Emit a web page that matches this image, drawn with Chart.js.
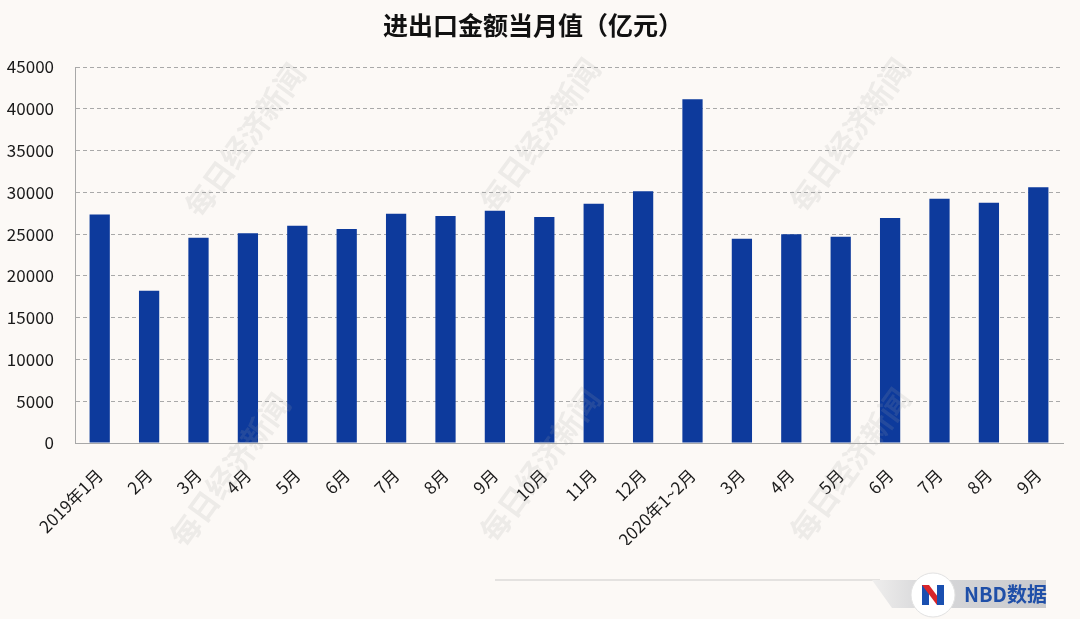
<!DOCTYPE html>
<html><head><meta charset="utf-8">
<script src="https://cdn.jsdelivr.net/npm/chart.js@4.4.0/dist/chart.umd.min.js"></script>
<style>
html,body{margin:0;padding:0;background:#fcf9f6;}
#wrap{width:1080px;height:619px;position:relative;}
</style></head>
<body><div id="wrap"><canvas id="c" width="1080" height="619"></canvas></div>
<script>
const categories = ['2019年1月','2月','3月','4月','5月','6月','7月','8月','9月','10月','11月','12月','2020年1~2月','3月','4月','5月','6月','7月','8月','9月'];
const values = [27350, 18230, 24560, 25090, 26000, 25600, 27430, 27160, 27790, 27040, 28630, 30140, 41130, 24450, 24970, 24690, 26920, 29230, 28750, 30620];
const yTicks = [0,5000,10000,15000,20000,25000,30000,35000,40000,45000];
const titleText = '进出口金额当月值（亿元）';
const watermark = '每日经济新闻';
const logoText = 'NBD数据';

const FONT = '"Noto Sans CJK SC","Noto Sans",sans-serif';

const decor = {
  id:'decor',
  beforeDraw(chart){
    const ctx = chart.ctx;
    ctx.save();
    ctx.fillStyle = '#fcf9f6';
    ctx.fillRect(0,0,chart.width,chart.height);
    ctx.restore();
  },
  afterDatasetsDraw(chart){
    const ctx = chart.ctx;
    ctx.save();
    ctx.fillStyle = 'rgba(160,160,160,0.16)';
    ctx.font = 'bold 30px ' + FONT;
    ctx.textAlign = 'center'; ctx.textBaseline = 'middle';
    const pos = [[245,140],[540,135],[850,135],[230,470],[540,465],[850,465]];
    for (const [x,y] of pos){
      ctx.save(); ctx.translate(x,y); ctx.rotate(-Math.PI*0.3);
      ctx.fillText(watermark,0,0); ctx.restore();
    }
    ctx.restore();
  },
  afterDraw(chart){
    const ctx = chart.ctx;
    ctx.save();
    ctx.fillStyle = '#111';
    ctx.font = 'bold 25px ' + FONT;
    ctx.textAlign = 'center'; ctx.textBaseline = 'middle';
    ctx.fillText(titleText, 533, 25);
    ctx.strokeStyle = '#e4e2e0'; ctx.lineWidth = 2;
    ctx.beginPath(); ctx.moveTo(495,580); ctx.lineTo(880,580); ctx.stroke();
    const g = ctx.createLinearGradient(870,0,1045,0);
    g.addColorStop(0,'#f0efee'); g.addColorStop(0.3,'#d8d8da'); g.addColorStop(1,'#c9cacd');
    ctx.fillStyle = g;
    ctx.beginPath(); ctx.moveTo(872,580); ctx.lineTo(1046,580); ctx.lineTo(1046,608); ctx.lineTo(892,608); ctx.closePath(); ctx.fill();
    ctx.fillStyle = '#ffffff';
    ctx.beginPath(); ctx.arc(933,595,22,0,Math.PI*2); ctx.fill();
    ctx.strokeStyle = '#e2e2e2'; ctx.lineWidth = 1; ctx.stroke();
    ctx.fillStyle = '#1a4fb0'; ctx.fillRect(922,585,7,20);
    ctx.fillStyle = '#d9252a';
    ctx.beginPath(); ctx.moveTo(922,585); ctx.lineTo(929,585); ctx.lineTo(944,605); ctx.lineTo(937,605); ctx.closePath(); ctx.fill();
    ctx.fillStyle = '#1a4fb0'; ctx.fillRect(937,585,7,20);
    ctx.fillStyle = '#1f4fa8';
    ctx.font = 'bold 20px ' + FONT;
    ctx.textAlign = 'left'; ctx.textBaseline = 'middle';
    ctx.fillText(logoText, 964, 594);
    ctx.restore();
  }
};

new Chart(document.getElementById('c'), {
  type:'bar',
  data:{ labels:categories, datasets:[{ data:values, backgroundColor:'#0d3a9c', borderWidth:0, barPercentage:0.82, categoryPercentage:0.5 }]},
  options:{
    responsive:false, animation:false,
    layout:{ padding:{ top:67, left:4, right:17, bottom:74 } },
    plugins:{ legend:{display:false}, tooltip:{enabled:false}, title:{display:false} },
    scales:{
      x:{
        grid:{ display:false, drawTicks:false },
        border:{ display:true, color:'#a8a8a8', width:1 },
        afterFit(axis){ axis.paddingLeft = 0; axis.paddingRight = 0; axis.height = 102; },
        ticks:{ color:'#1a1a1a', font:{ family:FONT, size:17 }, maxRotation:45, minRotation:45, padding:22, autoSkip:false }
      },
      y:{
        min:0, max:45000,
        afterBuildTicks(axis){ axis.ticks = yTicks.map(v=>({value:v})); },
        afterFit(axis){ axis.width = 71; },
        grid:{ color:'#a9a9a9', lineWidth:1, drawTicks:false },
        border:{ display:true, color:'#a8a8a8', width:1, dash:[4,3] },
        ticks:{ color:'#1a1a1a', font:{ family:FONT, size:17 }, padding:21, callback:(v)=>String(v) }
      }
    }
  },
  plugins:[decor]
});
</script></body></html>
